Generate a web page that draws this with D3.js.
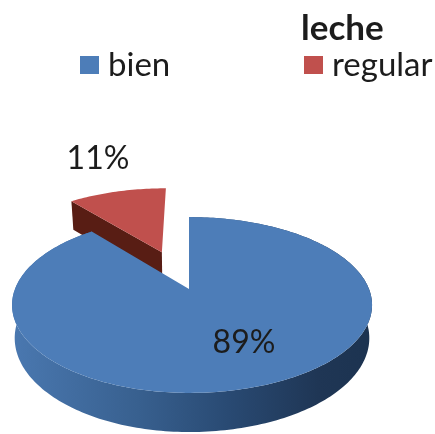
<!DOCTYPE html>
<html>
<head>
<meta charset="utf-8">
<script src="https://cdn.jsdelivr.net/npm/d3@7"></script>
<style>
html, body { margin: 0; background: #fff; }
svg { display: block; filter: blur(0.5px); }
text { font-family: Lato, "Open Sans", sans-serif; fill: #1c1c1c; }
</style>
</head>
<body>
<svg id="figure" width="435" height="434"></svg>
<script>
const title = "leche";
const categories = ["bien", "regular"];
const values = [89, 11];
const valueLabels = ["89%", "11%"];

const colors = ["#4d7db8", "#c0504d"];
const redSide = "#581d14";

const svg = d3.select("#figure");

// tilted disc: u goes right, v goes away from the viewer
const apex = {x: 189, y: 289};
const tilt = 0.182;
const scaleLeft = 174, scaleRight = 180, scaleUp = 85;
const depth = 32;
const inset = 0.985; // bottom rim is a bit narrower than the top one

function project(u, v, h) {
    const den = 1 + tilt * v;
    const shrink = 1 - (1 - inset) * (h || 0);
    return [
        apex.x + (u < 0 ? scaleLeft : scaleRight) * u * shrink / den,
        apex.y - scaleUp * v / den + (h || 0) * depth / den
    ];
}

const line = d3.line();

function rim(a0, a1, off, h, r) {
    const n = Math.ceil(Math.abs(a1 - a0) / 0.02);
    return d3.range(n + 1).map(i => {
        const a = a0 + (a1 - a0) * i / n;
        return project(Math.sin(a) * r + off[0], Math.cos(a) * r + off[1], h);
    });
}

const slices = d3.pie().sort(null)(values);

const defs = svg.append("defs");
const grad = defs.append("linearGradient")
    .attr("id", "sideBlue")
    .attr("gradientUnits", "userSpaceOnUse")
    .attr("x1", 12).attr("x2", 372).attr("y1", 0).attr("y2", 0);
grad.selectAll("stop")
    .data([[0, "#4a78b0"], [0.35, "#38608f"], [0.6, "#294a73"], [0.85, "#1f3655"], [1, "#1c3350"]])
    .join("stop")
    .attr("offset", d => d[0])
    .attr("stop-color", d => d[1]);

// regular: pulled out of the pie along its middle angle
const red = slices[1];
const mid = (red.startAngle + red.endAngle) / 2;
const pull = [Math.sin(mid) * 0.5, Math.cos(mid) * 0.5];
const redR = 1.04;
const redRim = rim(red.startAngle, red.endAngle, pull, 0, redR);
const redApex = project(pull[0], pull[1], 0);
const redCorner = redRim[0];

svg.append("path")
    .attr("d", line([
        redApex, redCorner,
        project(Math.sin(red.startAngle) * redR + pull[0], Math.cos(red.startAngle) * redR + pull[1], 1.1),
        project(pull[0], pull[1], 1)
    ]) + "Z")
    .attr("fill", redSide);

svg.append("path")
    .attr("d", line([redApex].concat(redRim)) + "Z")
    .attr("fill", colors[1]);

// bien
const blue = slices[0];
const blueRim = rim(blue.startAngle, blue.endAngle, [0, 0], 0, 1);
const blueBottom = rim(blue.endAngle, blue.startAngle, [0, 0], 1, 1);

svg.append("path")
    .attr("d", line(blueRim.concat(blueBottom)) + "Z")
    .attr("fill", "url(#sideBlue)");

svg.append("path")
    .attr("d", line([project(0, 0, 0)].concat(blueRim)) + "Z")
    .attr("fill", colors[0]);

// value labels
svg.append("text").attr("x", 244).attr("y", 353).attr("text-anchor", "middle")
    .style("font-size", "32px").text(valueLabels[0]);
svg.append("text").attr("x", 98).attr("y", 169).attr("text-anchor", "middle")
    .style("font-size", "32px").text(valueLabels[1]);

// title and legend
svg.append("text").attr("x", 301).attr("y", 40)
    .style("font-size", "35px").style("font-weight", "bold").text(title);

const legendX = [80, 304];
const legend = svg.selectAll("g.legend")
    .data(categories)
    .join("g")
    .attr("class", "legend")
    .attr("transform", (d, i) => "translate(" + legendX[i] + ",56)");
legend.append("rect")
    .attr("width", 19).attr("height", 18)
    .attr("fill", (d, i) => colors[i]);
legend.append("text")
    .attr("x", 28).attr("y", 20)
    .style("font-size", "33px")
    .text(d => d);
</script>
</body>
</html>
